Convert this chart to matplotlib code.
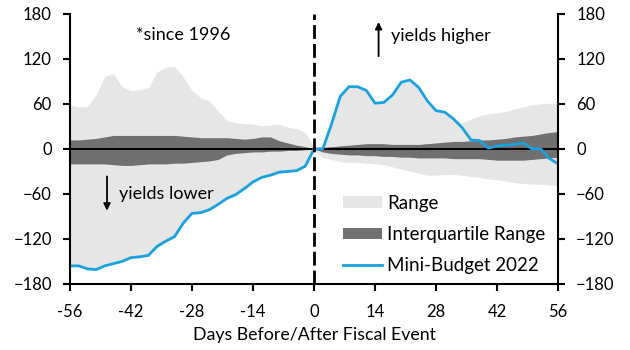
import numpy as np
import matplotlib
matplotlib.use("Agg")
import matplotlib.pyplot as plt
from matplotlib.patches import Patch
from matplotlib.lines import Line2D

plt.rcParams['font.family'] = ['Lato', 'DejaVu Sans']

# days relative to fiscal event (every 2nd day)
days = np.arange(-56, 57, 2)

# Mini-Budget 2022 gilt yield change (bp)
mini_budget = [-156, -156, -160, -161, -156, -153, -150, -145, -144, -142,
               -130, -123, -117, -99, -86, -85, -81, -74, -66, -61,
               -53, -44, -38, -35, -31, -30, -29, -23,
               0,
               0, 33, 70, 83, 83, 78, 61, 62, 72, 89,
               92, 82, 64, 51, 49, 40, 28, 12, 11, 1,
               4, 5, 6, 8, 0, 0, -13, -20]

range_hi = [59, 56, 57, 72, 97, 100, 83, 78, 79, 82,
            103, 109, 110, 96, 78, 68, 64, 50, 38, 35,
            34, 33, 31, 32, 33, 29, 27, 22,
            2,
            4, 33, 70, 83, 83, 78, 61, 62, 72, 89,
            92, 82, 64, 51, 49, 40, 35, 40, 44, 47,
            48, 50, 53, 56, 59, 60, 61, 61]

range_lo = [-157, -157, -161, -162, -157, -154, -151, -146, -145, -143,
            -131, -124, -118, -100, -87, -86, -82, -75, -67, -62,
            -54, -45, -39, -36, -32, -31, -30, -24,
            -1,
            -12, -14, -17, -18, -18, -19, -20, -21, -24, -27,
            -30, -32, -35, -35, -34, -34, -35, -37, -38, -40,
            -41, -43, -45, -46, -47, -47, -48, -49]

iqr_hi = [12, 12, 13, 14, 16, 18, 18, 18, 18, 18,
          18, 18, 18, 17, 16, 15, 15, 15, 15, 14,
          13, 14, 16, 16, 11, 8, 5, 3,
          0,
          2, 3, 4, 5, 6, 7, 7, 7, 6, 6,
          6, 6, 7, 8, 9, 10, 10, 11, 12, 12,
          13, 14, 16, 17, 18, 20, 22, 23]

iqr_lo = [-20, -20, -20, -20, -20, -21, -22, -22, -21, -20,
          -20, -20, -19, -19, -18, -17, -16, -14, -8, -6,
          -5, -4, -4, -3, -3, -2, -2, -1,
          0,
          -4, -6, -7, -8, -8, -9, -9, -10, -10, -11,
          -11, -12, -12, -12, -12, -13, -13, -13, -13, -14,
          -15, -15, -15, -15, -14, -13, -12, -11]

xticks = [-56, -42, -28, -14, 0, 14, 28, 42, 56]
yticks = [-180, -120, -60, 0, 60, 120, 180]

c_range = '#e6e6e6'
c_iqr = '#707070'
c_blue = '#1ba1dc'

fig = plt.figure(figsize=(6.3, 3.5), dpi=100)
ax = fig.add_axes([0.111, 0.189, 0.775, 0.771])

ax.fill_between(days, range_lo, range_hi, color=c_range, lw=0)
ax.fill_between(days, iqr_lo, iqr_hi, color=c_iqr, lw=0)
ax.axhline(0, color='black', lw=1.5)
ax.plot(days, mini_budget, color=c_blue, lw=2)
ax.axvline(0, color='black', lw=2, linestyle=(0, (5, 1.8)))

ax.set_xlim(-56, 56)
ax.set_ylim(-180, 180)
ax.set_xticks(xticks)
ax.set_xticklabels([str(t) for t in xticks])
ax.set_yticks(yticks)
ax.tick_params(axis='both', direction='out', length=5, width=1.5, labelsize=12, pad=8)
ax.tick_params(axis='x', pad=9.5)
ax.tick_params(axis='y', right=True, labelright=True)
ax.spines['top'].set_visible(False)
for s in ['left', 'right', 'bottom']:
    ax.spines[s].set_linewidth(1.5)
ax.set_xlabel('Days Before/After Fiscal Event', fontsize=12.8, labelpad=5)

ax.text(-30, 152, '*since 1996', fontsize=13, ha='center', va='center')
ax.annotate('', xy=(-47.5, -86), xytext=(-47.5, -33),
            arrowprops=dict(arrowstyle='-|>', color='black', lw=1.3))
ax.text(-44.8, -60, 'yields lower', fontsize=13, ha='left', va='center')
ax.annotate('', xy=(14.8, 173), xytext=(14.8, 120),
            arrowprops=dict(arrowstyle='-|>', color='black', lw=1.3))
ax.text(17.7, 150, 'yields higher', fontsize=13, ha='left', va='center')

handles = [Patch(color=c_range, lw=0), Patch(color=c_iqr, lw=0),
           Line2D([], [], color=c_blue, lw=2)]
labels = ['Range', 'Interquartile Range', 'Mini-Budget 2022']
ax.legend(handles, labels, loc='lower left', bbox_to_anchor=(0.559, 0.035),
          frameon=False, fontsize=13.5, handlelength=2.08, handleheight=0.6,
          labelspacing=0.76, handletextpad=0.27, borderpad=0, borderaxespad=0)

fig.savefig('out.png', dpi=100)
